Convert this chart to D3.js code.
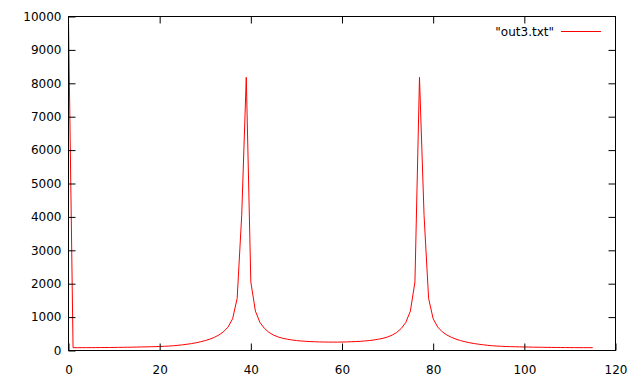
<!DOCTYPE html>
<html>
<head>
<meta charset="utf-8">
<script src="https://cdn.jsdelivr.net/npm/d3@7/dist/d3.min.js"></script>
<style>
  body { margin: 0; background: #fff; }
  svg { display: block; }
  .axis text { font-family: "DejaVu Sans", sans-serif; font-size: 12px; fill: #000; }
  .axis line { stroke: #000; }
</style>
</head>
<body>
<div id="chart"></div>
<script>
// values, index = x (0..115)
const seriesName = '"out3.txt"';
const yValues = [
  9900, 85, 85, 85, 86, 86, 87, 88, 89, 90,
  92, 94, 96, 98, 100, 103, 106, 109, 112, 116,
  120, 126, 133, 142, 155, 170, 188, 208, 232, 262,
  297, 340, 395, 465, 560, 700, 950, 1560, 4050, 8180,
  2050, 1180, 840, 660, 540, 460, 405, 365, 338, 316,
  298, 285, 275, 268, 262, 257, 254, 252, 251, 252,
  254, 257, 262, 268, 275, 285, 298, 316, 338, 365,
  405, 460, 540, 660, 840, 1180, 2050, 8180, 4050, 1560,
  950, 700, 560, 465, 395, 340, 297, 262, 232, 208,
  188, 170, 155, 142, 133, 126, 120, 116, 112, 109,
  106, 103, 100, 98, 96, 94, 92, 90, 89, 88,
  87, 86, 86, 85, 85, 85
];
const xTicks = [0, 20, 40, 60, 80, 100, 120];
const yTicks = [0, 1000, 2000, 3000, 4000, 5000, 6000, 7000, 8000, 9000, 10000];

const width = 640, height = 384;
const plotLeft = 68.5, plotRight = 615.5, plotTop = 16.5, plotBottom = 350.5;

const svg = d3.select('#chart').append('svg')
  .attr('width', width)
  .attr('height', height);

const x = d3.scaleLinear().domain([0, 120]).range([plotLeft, plotRight]);
const y = d3.scaleLinear().domain([0, 10000]).range([plotBottom, plotTop]);

// data line first, frame drawn over it
const line = d3.line()
  .x((d, i) => x(i))
  .y(d => y(d));

svg.append('path')
  .datum(yValues)
  .attr('fill', 'none')
  .attr('stroke', '#ff0000')
  .attr('stroke-width', 1)
  .attr('d', line);

// axes with inward ticks, mirrored on top and right
svg.append('g').attr('class', 'axis')
  .attr('transform', 'translate(0,' + plotBottom + ')')
  .call(d3.axisBottom(x).tickValues(xTicks).tickSize(-7).tickPadding(15).tickFormat(d3.format('d')))
  .call(g => g.select('.domain').remove());

svg.append('g').attr('class', 'axis')
  .attr('transform', 'translate(0,' + plotTop + ')')
  .call(d3.axisTop(x).tickValues(xTicks.slice(1, -1)).tickSize(-7).tickFormat(''))
  .call(g => g.select('.domain').remove());

svg.append('g').attr('class', 'axis')
  .attr('transform', 'translate(' + plotLeft + ',0)')
  .call(d3.axisLeft(y).tickValues(yTicks).tickSize(-7).tickPadding(7).tickFormat(d3.format('d')))
  .call(g => g.select('.domain').remove());

svg.append('g').attr('class', 'axis')
  .attr('transform', 'translate(' + plotRight + ',0)')
  .call(d3.axisRight(y).tickValues(yTicks.slice(1, -1)).tickSize(-7).tickFormat(''))
  .call(g => g.select('.domain').remove());

// border
svg.append('rect')
  .attr('x', plotLeft).attr('y', plotTop)
  .attr('width', plotRight - plotLeft).attr('height', plotBottom - plotTop)
  .attr('fill', 'none').attr('stroke', '#000');

// key
const key = svg.append('g').attr('class', 'axis');
key.append('text')
  .attr('x', 554).attr('y', 36)
  .attr('text-anchor', 'end')
  .text(seriesName);
key.append('line')
  .attr('x1', 561).attr('x2', 601)
  .attr('y1', 31.5).attr('y2', 31.5)
  .style('stroke', '#ff0000');
</script>
</body>
</html>
